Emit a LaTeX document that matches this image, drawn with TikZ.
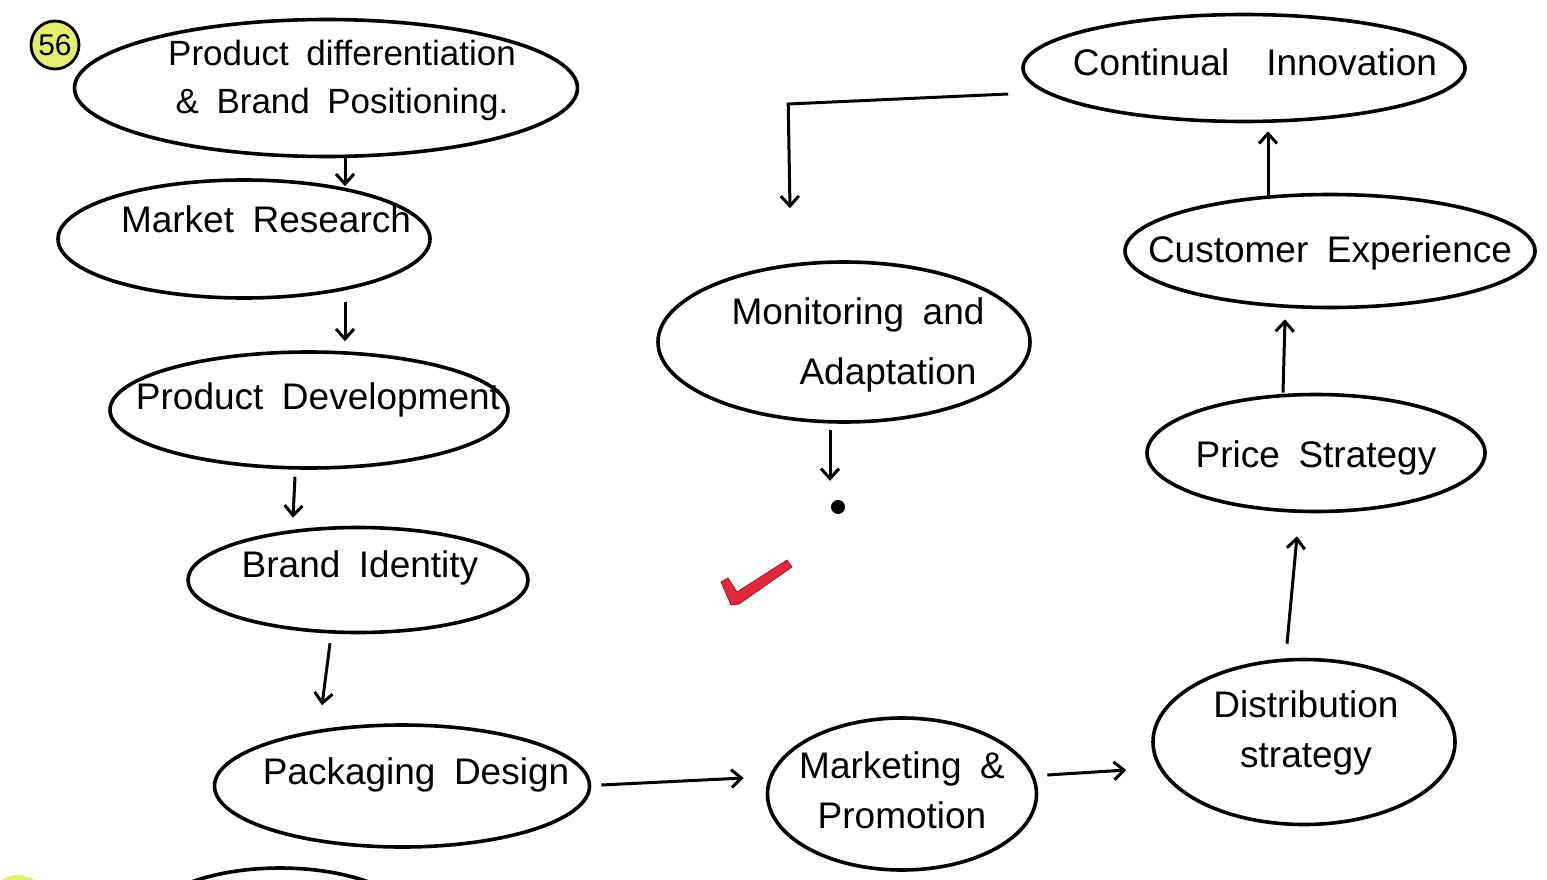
\documentclass[tikz,border=0pt]{standalone}
\usepackage{fontspec}
\setmainfont{Liberation Sans}[WordSpace=1.8]
\usetikzlibrary{shapes.geometric,arrows.meta}
\newcommand\handfont{\fontsize{37}{50}\selectfont}
\definecolor{badge}{HTML}{E4EE72}
\definecolor{checkred}{HTML}{E2283A}
\tikzset{
  ell/.style={draw, ellipse, line width=3.6pt, inner sep=0pt},
  lbl/.style={font=\handfont, align=center, inner sep=0pt},
  arr/.style={line width=3pt, -{Straight Barb[length=10pt,width=18pt,line width=3pt]}},
}
\begin{document}
\begin{tikzpicture}[x=1pt,y=-1pt]
\useasboundingbox (0,0) rectangle (1547,880);
\fill[white] (0,0) rectangle (1547,880);
\begin{scope}
\clip (0,0) rectangle (1547,880);
% partial shapes cut by the lower edge
\draw[line width=3.6pt] (280,930) ellipse [x radius=140, y radius=62];
\fill[badge] (18,905) circle [radius=30];
\end{scope}

% badge
\node[draw, circle, fill=badge, line width=2.8pt, minimum size=48pt, inner sep=0pt, font=\fontsize{30}{30}\selectfont] (badge) at (55,45) {56};

% nodes
\node[ell, minimum width=503pt, minimum height=137pt] (n1) at (326,88) {};
\node[lbl, font=\fontsize{35}{48}\selectfont] (t1) at (342,80) {Product differentiation\\ \& Brand Positioning.};

\node[ell, minimum width=372pt, minimum height=118pt] (n2) at (244,239) {};
\node[lbl] (t2) at (266,219) {Market Research};

\node[ell, minimum width=398pt, minimum height=116pt] (n3) at (309,410) {};
\node[lbl] (t3) at (318,400) {Product Development};

\node[ell, minimum width=340pt, minimum height=105pt] (n4) at (358,580) {};
\node[lbl] (t4) at (360,568) {Brand Identity};

\node[ell, minimum width=375pt, minimum height=122pt] (n5) at (402,786) {};
\node[lbl] (t5) at (416,775) {Packaging Design};

\node[ell, minimum width=269pt, minimum height=152pt] (n6) at (902,794) {};
\node[lbl] (t6) at (902,790) {Marketing \&\\Promotion};

\node[ell, minimum width=302pt, minimum height=165pt] (n7) at (1304,742) {};
\node[lbl] (t7) at (1306,733) {Distribution\\strategy};

\node[ell, minimum width=338pt, minimum height=117pt] (n8) at (1316,453) {};
\node[lbl] (t8) at (1316,458) {Price Strategy};

\node[ell, minimum width=410pt, minimum height=113pt] (n9) at (1330,251) {};
\node[lbl] (t9) at (1330,253) {Customer Experience};

\node[ell, minimum width=442pt, minimum height=107pt] (n10) at (1244,68) {};
\node[lbl] (t10) at (1255,62) {Continual\quad Innovation};

\node[ell, minimum width=372pt, minimum height=160pt] (n11) at (844,342) {};
\node[lbl, font=\fontsize{37}{60}\selectfont] (t11) at (858,345) {Monitoring and\\ \hspace*{60pt}Adaptation};

\node[circle, fill=black, minimum size=14pt, inner sep=0pt] (dot) at (838,507) {};

% connectors
\draw[arr] ([xshift=19pt]n1.south) -- ([xshift=101pt,yshift=-8pt]n2.north);
\draw[arr] ([xshift=101pt,yshift=-2pt]n2.south) -- ([xshift=36pt,yshift=9pt]n3.north);
\draw[arr] ([xshift=-14pt,yshift=-7pt]n3.south) -- ([xshift=-65pt,yshift=8pt]n4.north);
\draw[arr] ([xshift=-28pt,yshift=-9pt]n4.south) -- ([xshift=-80pt,yshift=18pt]n5.north);
\draw[arr] ([xshift=10pt,yshift=1pt]n5.east) -- ([xshift=-22pt,yshift=16pt]n6.west);
\draw[arr] ([xshift=9pt,yshift=19pt]n6.east) -- ([xshift=-25pt,yshift=-28pt]n7.west);
\draw[arr] ([xshift=-17pt,yshift=14pt]n7.north) -- ([xshift=-19pt,yshift=-23pt]n8.south);
\draw[arr] ([xshift=-33pt]n8.north) -- ([xshift=-45pt,yshift=-10pt]n9.south);
\draw[arr] ([xshift=-62pt,yshift=-5pt]n9.north) -- ([xshift=24pt,yshift=-8pt]n10.south);
\draw[arr] ([xshift=-13pt,yshift=-26pt]n10.west) -- ++(-220,10) -- ([xshift=-54pt,yshift=52pt]n11.north);
\draw[arr] ([xshift=-14pt,yshift=-6pt]n11.south) -- ([xshift=-8pt,yshift=19pt]dot.north);

% red tick
\filldraw[checkred, draw=checkred!70!black, line width=0.8pt]
  (721,582) -- (728,578) -- (737,592) -- (787,560) -- (792,567) -- (739,604) -- (731,605) -- cycle;
\end{tikzpicture}
\end{document}
